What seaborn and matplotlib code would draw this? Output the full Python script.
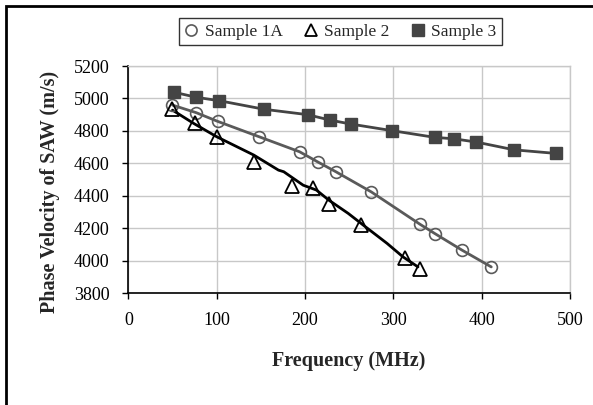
import numpy as np
import pandas as pd
import seaborn as sns
import matplotlib
matplotlib.use("Agg")
import matplotlib.pyplot as plt
from matplotlib.patches import Rectangle
from matplotlib.lines import Line2D

# meetwaarden
freq_1a = [50, 77, 101, 148, 194, 215, 235, 275, 330, 347, 378, 411]
vel_1a = [4959, 4912, 4859, 4764, 4671, 4607, 4548, 4424, 4225, 4167, 4064, 3961]

freq_2 = [50, 75, 100, 142, 185, 209, 227, 264, 313, 330]
vel_2 = [4937, 4850, 4764, 4609, 4459, 4445, 4352, 4219, 4013, 3951]

# lijn bij sample 2 (loopt niet precies door de punten)
freq_2_line = [50, 74, 100, 142, 170, 176, 198, 213, 227, 249, 266, 293, 311, 328]
vel_2_line = [4928, 4846, 4764, 4651, 4558, 4548, 4465, 4435, 4373, 4291, 4219, 4106, 4023, 3961]

freq_3 = [52, 77, 103, 154, 203, 228, 252, 299, 347, 369, 394, 437, 484]
vel_3 = [5038, 5007, 4986, 4933, 4900, 4867, 4842, 4801, 4760, 4751, 4731, 4683, 4661]

labels = ["Sample 1A", "Sample 2", "Sample 3"]

sns.set_theme(style="white")
plt.rcParams['font.family'] = ['Liberation Serif', 'DejaVu Serif']

fig = plt.figure(figsize=(5.93, 4.05), dpi=100)
ax = fig.add_axes([0.2164, 0.2765, 0.961 - 0.2164, 0.837 - 0.2765])

df1 = pd.DataFrame({'freq': freq_1a, 'vel': vel_1a})
df2 = pd.DataFrame({'freq': freq_2, 'vel': vel_2})
df2l = pd.DataFrame({'freq': freq_2_line, 'vel': vel_2_line})
df3 = pd.DataFrame({'freq': freq_3, 'vel': vel_3})

grey1 = '#5a5a5a'
grey3 = '#444444'

# lijnen
sns.lineplot(data=df1, x='freq', y='vel', ax=ax, color=grey1, lw=2.0, sort=False)
sns.lineplot(data=df2l, x='freq', y='vel', ax=ax, color='black', lw=2.0, sort=False)
sns.lineplot(data=df3, x='freq', y='vel', ax=ax, color=grey3, lw=2.0, sort=False)

# punten
ax.plot(df1['freq'], df1['vel'], ls='none', marker='o', ms=8.5, mfc='none', mec=grey1, mew=1.2, zorder=5)
ax.plot(df2['freq'], df2['vel'], ls='none', marker='^', ms=10, mfc='none', mec='black', mew=1.3, zorder=5)
ax.plot(df3['freq'], df3['vel'], ls='none', marker='s', ms=9, mfc=grey3, mec=grey3, zorder=5)

ax.set_xlim(0, 500)
ax.set_ylim(3800, 5200)
ax.set_xticks(np.arange(0, 501, 100))
ax.set_yticks(np.arange(3800, 5201, 200))
ax.grid(True, color='#c8c8c8', lw=1.0)
ax.set_axisbelow(True)

for s in ['top', 'right']:
    ax.spines[s].set_color('#c8c8c8')
    ax.spines[s].set_linewidth(1.0)
for s in ['left', 'bottom']:
    ax.spines[s].set_color('black')
    ax.spines[s].set_linewidth(1.2)

ax.tick_params(axis='both', labelsize=13, colors='black', direction='out', length=4.5, width=1)
ax.tick_params(axis='y', pad=9)
ax.tick_params(axis='x', pad=9)
ax.tick_params(axis='both', which='both', left=True, bottom=True)

ax.set_xlabel('Frequency (MHz)', fontsize=14.5, fontweight='bold')
ax.set_ylabel('Phase Velocity of SAW (m/s)', fontsize=14.5, fontweight='bold')
ax.xaxis.set_label_coords(0.5, -0.255)
ax.yaxis.set_label_coords(-0.155, 0.445)

handles = [
    Line2D([], [], ls='none', marker='o', ms=8, mfc='none', mec=grey1, mew=1.2),
    Line2D([], [], ls='none', marker='^', ms=9, mfc='none', mec='black', mew=1.3),
    Line2D([], [], ls='none', marker='s', ms=8, mfc=grey3, mec=grey3),
]
leg = fig.legend(handles, labels, loc='center', bbox_to_anchor=(0.574, 0.922), ncol=3,
                 fontsize=12.5, frameon=True, fancybox=False, edgecolor='black',
                 handlelength=0.8, handletextpad=0.4, columnspacing=1.2, borderpad=0.3)
leg.get_frame().set_linewidth(1.0)

# rand om de figuur (alleen links en boven zichtbaar)
fig.patches.append(Rectangle((6 / 593, -0.2), 1.5, 1 - 6 / 405 + 0.2, transform=fig.transFigure,
                             fill=False, edgecolor='black', lw=2.0))

fig.savefig('out.png', dpi=100)
